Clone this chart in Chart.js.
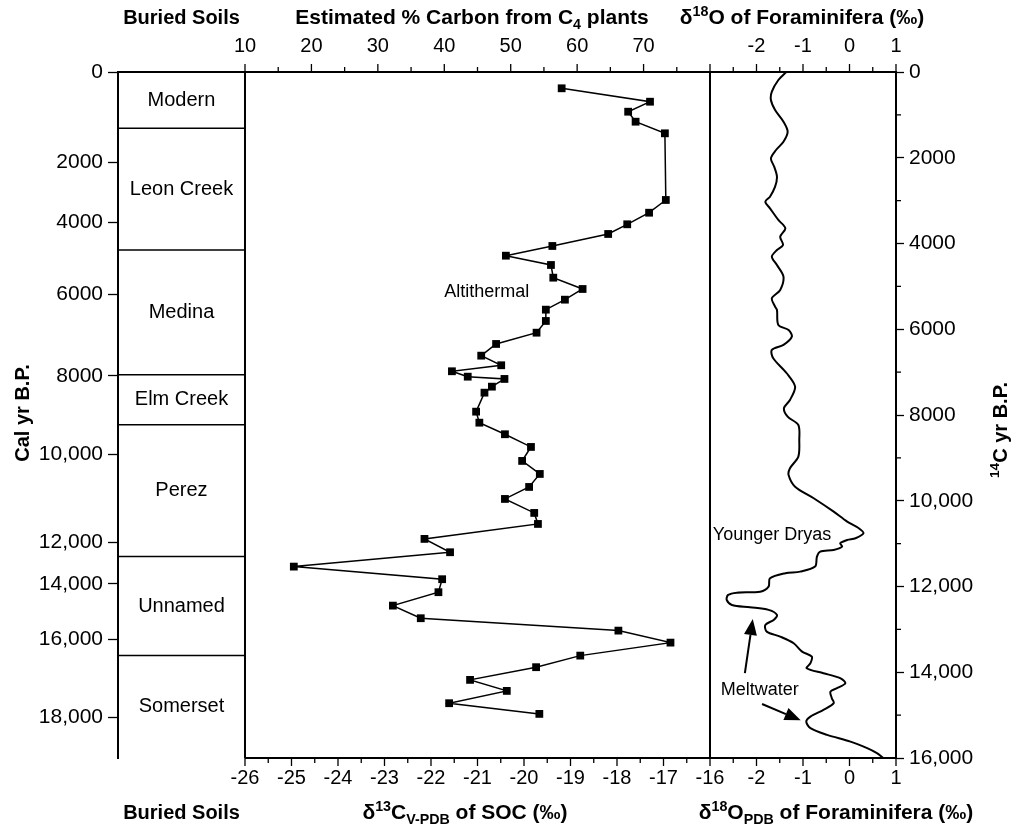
<!DOCTYPE html>
<html><head><meta charset="utf-8">
<script src="https://cdn.jsdelivr.net/npm/chart.js@4.4.0/dist/chart.umd.min.js"></script>
<style>html,body{margin:0;padding:0;background:#fff;}</style>
</head><body>
<canvas id="c" width="1018" height="826"></canvas>
<script>
// ---------------- data ----------------
const soilNames = ['Modern','Leon Creek','Medina','Elm Creek','Perez','Unnamed','Somerset'];
const soilTops14C = [0,1310,4150,7060,8230,11300,13610];
const soilBase14C = 16000;

const calTickLabels = ['0','2000','4000','6000','8000','10,000','12,000','14,000','16,000','18,000'];
const calTickAt14C  = [0,2100,3510,5190,7090,8910,10970,11940,13230,15060];

const c14TickValues = [0,2000,4000,6000,8000,10000,12000,14000,16000];
const d13TickLabels = [-26,-25,-24,-23,-22,-21,-20,-19,-18,-17,-16];
const pctTickLabels = [10,20,30,40,50,60,70];
const d18TickLabels = [-2,-1,0,1];

const d13C = [-19.19,-17.29,-17.76,-17.60,-16.97,-16.95,-17.31,-17.78,-18.19,-19.39,
  -20.39,-19.42,-19.37,-18.74,-19.12,-19.53,-19.53,-19.73,-20.60,-20.92,
  -20.49,-21.55,-21.21,-20.42,-20.69,-20.85,-21.03,-20.96,-20.41,-19.85,
  -20.04,-19.66,-19.89,-20.41,-19.78,-19.70,-22.14,-21.59,-24.95,-21.76,
  -21.84,-22.82,-22.22,-17.97,-16.85,-18.79,-19.74,-21.16,-20.37,-21.61,-19.67];
const d13CAge = [380,693,926,1159,1430,2985,3282,3552,3778,4058,
  4284,4501,4797,5061,5310,5543,5807,6080,6343,6616,
  6840,6980,7106,7159,7339,7479,7922,8179,8449,8745,
  9071,9375,9678,9958,10284,10541,10890,11201,11536,11830,
  12133,12446,12740,13029,13309,13612,13882,14178,14435,14722,14971];

const d18O = [-1.36,-1.53,-1.67,-1.69,-1.60,-1.42,-1.33,-1.42,-1.58,-1.69,
  -1.62,-1.56,-1.60,-1.71,-1.81,-1.71,-1.53,-1.38,-1.49,-1.43,
  -1.56,-1.67,-1.56,-1.42,-1.49,-1.67,-1.60,-1.56,-1.53,-1.31,
  -1.24,-1.42,-1.67,-1.64,-1.35,-1.17,-1.28,-1.41,-1.33,-1.10,
  -1.08,-1.10,-1.28,-1.31,-1.17,-0.77,-0.34,-0.05,0.20,0.30,
  0.13,-0.05,-0.20,-0.16,-0.34,-0.63,-0.70,-0.74,-1.06,-1.38,
  -1.71,-1.74,-1.92,-2.42,-2.61,-2.64,-2.53,-2.14,-1.74,-1.56,
  -1.63,-1.81,-1.78,-1.49,-1.20,-1.02,-0.81,-0.84,-0.92,-0.56,
  -0.20,-0.09,-0.27,-0.41,-0.38,-0.34,-0.56,-0.84,-0.93,-0.84,
  -0.48,0.02,0.38,0.59,0.73];
const d18OAge = [0,187,459,653,886,1159,1392,1625,1819,2014,
  2208,2442,2675,2908,3025,3179,3451,3645,3841,4035,
  4151,4307,4501,4774,5084,5277,5473,5550,5900,6017,
  6173,6366,6483,6677,7026,7339,7649,7843,8039,8232,
  8582,8971,9242,9398,9671,9941,10254,10487,10641,10758,
  10874,10914,10991,11070,11147,11187,11303,11536,11653,11690,
  11807,12003,12120,12143,12196,12313,12430,12483,12546,12663,
  12779,12896,13052,13169,13323,13519,13635,13789,13906,14022,
  14139,14256,14372,14451,14605,14722,14878,15034,15151,15305,
  15461,15617,15771,15888,16000];

// ---------------- drawing helpers ----------------
const FF = '"Liberation Sans", Arial, Helvetica, sans-serif';
function seg(ctx, x1, y1, x2, y2, w) {
  ctx.lineWidth = w; ctx.beginPath(); ctx.moveTo(x1, y1); ctx.lineTo(x2, y2); ctx.stroke();
}
function rich(ctx, parts, x, y, size, weight, align) {
  let total = 0;
  for (const [t, k] of parts) { ctx.font = `${weight} ${k ? size * 0.68 : size}px ${FF}`; total += ctx.measureText(t).width; }
  let cx = align === 'center' ? x - total / 2 : x;
  ctx.textAlign = 'left'; ctx.textBaseline = 'alphabetic';
  for (const [t, k] of parts) {
    const s = k ? size * 0.68 : size;
    ctx.font = `${weight} ${s}px ${FF}`;
    const dy = k === 1 ? -size * 0.38 : (k === 2 ? size * 0.24 : 0);
    ctx.fillText(t, cx, y + dy);
    cx += ctx.measureText(t).width;
  }
}
function arrow(ctx, x1, y1, x2, y2) {
  const ang = Math.atan2(y2 - y1, x2 - x1), L = 16, W = 6.5;
  const bx = x2 - L * Math.cos(ang), by = y2 - L * Math.sin(ang);
  seg(ctx, x1, y1, bx, by, 2);
  ctx.beginPath();
  ctx.moveTo(x2, y2);
  ctx.lineTo(bx + W * Math.sin(ang), by - W * Math.cos(ang));
  ctx.lineTo(bx - W * Math.sin(ang), by + W * Math.cos(ang));
  ctx.closePath(); ctx.fill();
}

const framePlugin = {
  id: 'frame',
  beforeDatasetsDraw(chart) {
    const {ctx, chartArea: a, scales} = chart;
    const {x, xo, xt, y} = scales;
    ctx.save();
    ctx.strokeStyle = '#000'; ctx.fillStyle = '#000';
    const xL = x.getPixelForValue(-26), xD = x.getPixelForValue(-16);
    // frame lines
    seg(ctx, a.left - 1, a.top, a.right, a.top, 2);
    seg(ctx, xL, a.bottom, a.right + 1, a.bottom, 2);
    seg(ctx, xL, a.top, xL, a.bottom, 2);
    seg(ctx, xD, a.top, xD, a.bottom, 2);
    // buried soils column
    ctx.font = `20px ${FF}`; ctx.textAlign = 'center'; ctx.textBaseline = 'middle';
    soilTops14C.forEach((t, i) => {
      const next = i < soilTops14C.length - 1 ? soilTops14C[i + 1] : soilBase14C;
      if (i > 0) { const py = y.getPixelForValue(t); seg(ctx, a.left, py, xL, py, 1.5); }
      ctx.fillText(soilNames[i], (a.left + xL) / 2, y.getPixelForValue((t + next) / 2));
    });
    // top ticks (percent C4)
    for (let p = 10; p <= 80; p += 5) {
      const px = xt.getPixelForValue(p);
      seg(ctx, px, a.top, px, a.top - (p % 10 === 0 ? 8 : 5), 1.3);
    }
    // top / bottom d18O ticks
    for (let d = -2.5; d <= 1.001; d += 0.5) {
      const px = xo.getPixelForValue(d), len = Number.isInteger(d) ? 8 : 5;
      seg(ctx, px, a.top, px, a.top - len, 1.3);
      seg(ctx, px, a.bottom, px, a.bottom + len, 1.3);
    }
    // bottom d13C ticks
    for (let v = -26; v <= -16.001 + 0.002; v += 0.5) {
      const px = x.getPixelForValue(v);
      seg(ctx, px, a.bottom, px, a.bottom + (Number.isInteger(v) ? 8 : 5), 1.3);
    }
    // right-axis minor ticks
    for (let v = 1000; v < 16000; v += 2000) {
      const py = y.getPixelForValue(v);
      seg(ctx, a.right, py, a.right + 5, py, 1.3);
    }
    // tick labels top & bottom
    ctx.font = `20px ${FF}`; ctx.textAlign = 'center'; ctx.textBaseline = 'middle';
    pctTickLabels.forEach(p => ctx.fillText(String(p), xt.getPixelForValue(p), 46));
    d18TickLabels.forEach(d => ctx.fillText(String(d), xo.getPixelForValue(d), 46));
    d13TickLabels.forEach(v => ctx.fillText(String(v), x.getPixelForValue(v), 778));
    d18TickLabels.forEach(d => ctx.fillText(String(d), xo.getPixelForValue(d), 778));
    // titles
    rich(ctx, [['Buried Soils', 0]], (a.left + xL) / 2, 24, 20, 'bold', 'center');
    rich(ctx, [['Estimated % Carbon from C', 0], ['4', 2], [' plants', 0]], 472, 24, 21, 'bold', 'center');
    rich(ctx, [['δ', 0], ['18', 1], ['O of Foraminifera (‰)', 0]], 802, 24, 21, 'bold', 'center');
    rich(ctx, [['Buried Soils', 0]], (a.left + xL) / 2, 819, 20, 'bold', 'center');
    rich(ctx, [['δ', 0], ['13', 1], ['C', 0], ['V-PDB', 2], [' of SOC (‰)', 0]], 465, 819, 21, 'bold', 'center');
    rich(ctx, [['δ', 0], ['18', 1], ['O', 0], ['PDB', 2], [' of Foraminifera (‰)', 0]], 836, 819, 21, 'bold', 'center');
    ctx.save(); ctx.translate(29, 413); ctx.rotate(-Math.PI / 2);
    rich(ctx, [['Cal yr B.P.', 0]], 0, 0, 20, 'bold', 'center'); ctx.restore();
    ctx.save(); ctx.translate(1007, 430); ctx.rotate(-Math.PI / 2);
    rich(ctx, [['14', 1], ['C yr B.P.', 0]], 0, 0, 20, 'bold', 'center'); ctx.restore();
    ctx.restore();
  },
  afterDatasetsDraw(chart) {
    const {ctx, scales} = chart;
    const {x, xo, y} = scales;
    ctx.save();
    ctx.fillStyle = '#000'; ctx.strokeStyle = '#000';
    ctx.font = `18px ${FF}`; ctx.textBaseline = 'middle';
    ctx.textAlign = 'center';
    ctx.fillText('Altithermal', x.getPixelForValue(-20.8), y.getPixelForValue(5130));
    ctx.textAlign = 'left';
    ctx.fillText('Younger Dryas', xo.getPixelForValue(-2.94), y.getPixelForValue(10790));
    ctx.fillText('Meltwater', xo.getPixelForValue(-2.77), y.getPixelForValue(14420));
    arrow(ctx, xo.getPixelForValue(-2.25), y.getPixelForValue(14020), xo.getPixelForValue(-2.08), y.getPixelForValue(12760));
    arrow(ctx, xo.getPixelForValue(-1.88), y.getPixelForValue(14740), xo.getPixelForValue(-1.05), y.getPixelForValue(15120));
    ctx.restore();
  }
};

const tickFont = {family: FF, size: 21};

new Chart(document.getElementById('c'), {
  type: 'scatter',
  data: {
    datasets: [
      {
        label: 'δ13C of SOC',
        data: d13C.map((v, i) => ({x: v, y: d13CAge[i]})),
        xAxisID: 'x', yAxisID: 'y',
        showLine: true, borderColor: '#000', borderWidth: 1.5,
        pointStyle: 'rect', pointRadius: 5.5, pointHoverRadius: 5.5,
        pointBackgroundColor: '#000', pointBorderColor: '#000', pointBorderWidth: 0,
        tension: 0
      },
      {
        label: 'δ18O of Foraminifera',
        data: d18O.map((v, i) => ({x: v, y: d18OAge[i]})),
        xAxisID: 'xo', yAxisID: 'y',
        showLine: true, borderColor: '#000', borderWidth: 2,
        pointRadius: 0, pointHoverRadius: 0, tension: 0.3
      }
    ]
  },
  options: {
    responsive: false, animation: false, devicePixelRatio: 1,
    layout: {padding: {top: 72, bottom: 68, left: 0, right: 0}},
    plugins: {legend: {display: false}, tooltip: {enabled: false}},
    scales: {
      // δ13C (‰): -26 at the soils/SOC boundary, soils column occupies the left part
      x:  {type: 'linear', display: false, min: -28.731, max: -12},
      // δ18O (‰): -3 aligned with δ13C -16, 1 at the right border
      xo: {type: 'linear', display: false, min: -15.731, max: 1},
      // Estimated % carbon from C4 plants: 10% at δ13C -26, 80% at δ13C -16
      xt: {type: 'linear', display: false, min: -9.118, max: 108},
      y: {
        type: 'linear', position: 'right', min: 0, max: 16000, reverse: true,
        afterBuildTicks: s => { s.ticks = c14TickValues.map(v => ({value: v})); },
        afterFit: s => { s.width = 122; },
        ticks: {color: '#000', font: tickFont, padding: 5, autoSkip: false,
          callback: v => v >= 10000 ? v.toLocaleString('en-US') : String(v)},
        grid: {drawOnChartArea: false, tickLength: 8, tickColor: '#000', tickWidth: 1.3},
        border: {display: true, color: '#000', width: 2}
      },
      yc: {
        type: 'linear', position: 'left', min: 0, max: 16000, reverse: true,
        afterBuildTicks: s => { s.ticks = calTickAt14C.map(v => ({value: v})); },
        afterFit: s => { s.width = 118; },
        ticks: {color: '#000', font: tickFont, padding: 5, autoSkip: false,
          callback: (v, i) => calTickLabels[i]},
        grid: {drawOnChartArea: false, tickLength: 10, tickColor: '#000', tickWidth: 1.3},
        border: {display: true, color: '#000', width: 2}
      }
    }
  },
  plugins: [framePlugin]
});
</script>
</body></html>
